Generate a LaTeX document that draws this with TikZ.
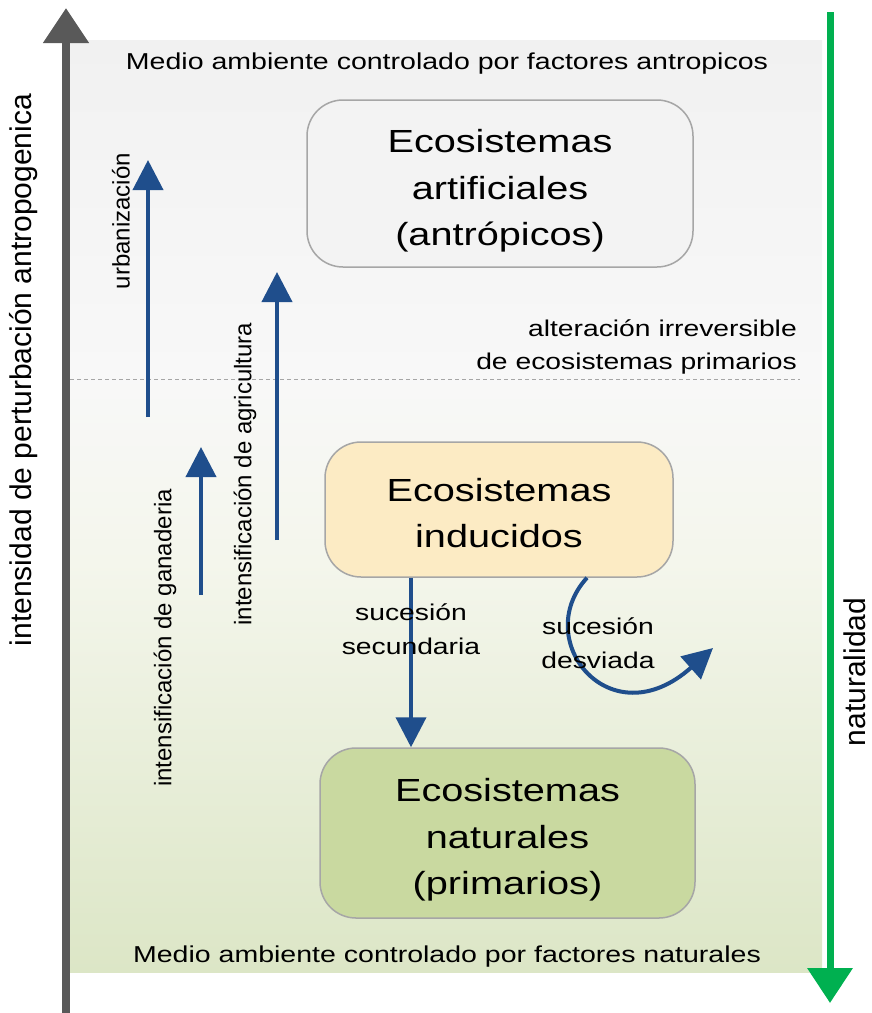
\documentclass[tikz,border=0pt]{standalone}
\usepackage{fontspec}
\setmainfont{Liberation Sans}[FakeStretch=1.24]
\newfontfamily\rotfont{Liberation Sans}
\usetikzlibrary{arrows.meta,calc}
\definecolor{axisgray}{HTML}{595959}
\definecolor{natgreen}{HTML}{00B050}
\definecolor{arrowblue}{HTML}{1F4E8C}
\definecolor{boxline}{HTML}{A6A6A6}
\definecolor{artfill}{HTML}{F3F3F3}
\definecolor{indfill}{HTML}{FCEBC4}
\definecolor{natfill}{HTML}{C9D9A0}
\definecolor{bgtop}{HTML}{F1F1F1}
\definecolor{bglight}{HTML}{F8F8F8}
\definecolor{bgmid}{HTML}{F4F6EC}
\definecolor{bgbot}{HTML}{DCE6C6}
\pgfdeclareverticalshading{bgshade}{100bp}{color(0bp)=(bgbot); color(25bp)=(bgbot);
	color(47bp)=(bgmid); color(57bp)=(bglight); color(75bp)=(bgtop); color(100bp)=(bgtop)}
% raises the first line of a box text
\newcommand{\firstline}[1]{\rule{0pt}{#1}}
\tikzset{
	ecobox/.style={draw=boxline, line width=1.5pt, rounded corners=36pt, align=center,
		inner sep=0pt, font=\fontsize{32}{46.5}\selectfont},
	note/.style={inner sep=0pt, font=\fontsize{22.8}{33.5}\selectfont},
	axislabel/.style={rotate=90, inner sep=0pt, font=\rotfont\fontsize{30}{36}\selectfont},
	sidelabel/.style={rotate=90, inner sep=0pt, font=\rotfont\fontsize{24}{29}\selectfont},
	pressure/.style={draw=arrowblue, line width=4pt, -{Triangle[width=30pt,length=30pt]}},
	antaxis/.style={draw=axisgray, line width=8pt, -{Triangle[width=44pt,length=35pt]}},
	nataxis/.style={draw=natgreen, line width=7pt, -{Triangle[width=44pt,length=35pt]}},
	threshold/.style={draw=gray!70, line width=1pt, dash pattern=on 4pt off 3pt}
}

\begin{document}
\begin{tikzpicture}[x=1pt,y=-1pt]
\useasboundingbox (0,0) rectangle (871,1013);

%background
\shade[shading=bgshade] (70,40) rectangle (822,972);

%axis
\coordinate (antS) at (66,1013);
\coordinate (antE) at (66,8);
\draw[antaxis] (antS) -- (antE);
\coordinate (natS) at (830,12);
\coordinate (natE) at (830,1003);
\draw[nataxis] (natS) -- (natE);
\node[axislabel] (antlabel) at (24,370) {intensidad de perturbación antropogenica};
\node[axislabel] (natlabel) at (855,672) {naturalidad};

%environment notes
\node[note,font=\fontsize{23}{28}\selectfont,anchor=base] (topnote) at (447,69)
	{Medio ambiente controlado por factores antropicos};
\node[note,font=\fontsize{23}{28}\selectfont,anchor=base] (botnote) at (447,962)
	{Medio ambiente controlado por factores naturales};

%threshold line
\coordinate (thrA) at (70,379);
\coordinate (thrB) at (800,379);
\draw[threshold] (thrA) -- (thrB);
\node[note,align=right,anchor=east] (alter) at (797,347) {alteración irreversible\\de ecosistemas primarios};

% ecosystems
\node[ecobox,fill=artfill,minimum width=386pt,minimum height=167pt] (artif) at (500,183.5)
	{\firstline{38pt}Ecosistemas\\artificiales\\(antrópicos)};
\node[ecobox,fill=indfill,minimum width=348pt,minimum height=135pt] (induc) at (499,509.5)
	{\firstline{30.5pt}Ecosistemas\\inducidos};
\node[ecobox,fill=natfill,minimum width=375pt,minimum height=170pt] (natur) at (507.5,833)
	{\firstline{37pt}Ecosistemas\\naturales\\(primarios)};

% pressures
\coordinate (urbS) at (148,417);
\coordinate (urbE) at (148,160);
\draw[pressure] (urbS) -- (urbE);
\node[sidelabel] (urblabel) at (121,221) {urbanización};

\coordinate (agrS) at (277,540);
\coordinate (agrE) at (277,272);
\draw[pressure] (agrS) -- (agrE);
\node[sidelabel] (agrlabel) at (245,474) {intensificación de agricultura};

\coordinate (ganS) at (201,595);
\coordinate (ganE) at (201,447);
\draw[pressure] (ganS) -- (ganE);
\node[sidelabel] (ganlabel) at (165,638) {intensificación de ganaderia};

% succession
\coordinate (secS) at ($(induc.south)+(-88,0)$);
\draw[pressure] (secS) -- (secS |- natur.north);
\node[note,align=center] (seclabel) at (411,629) {sucesión\\secundaria};

\coordinate (desS) at ($(induc.south)+(88,0)$);
\coordinate (desE) at (713,648);
\draw[pressure] (desS) .. controls (530,640) and (610,740) .. (desE);
\node[note,align=center] (deslabel) at (598,643) {sucesión\\desviada};

\end{tikzpicture}
\end{document}
